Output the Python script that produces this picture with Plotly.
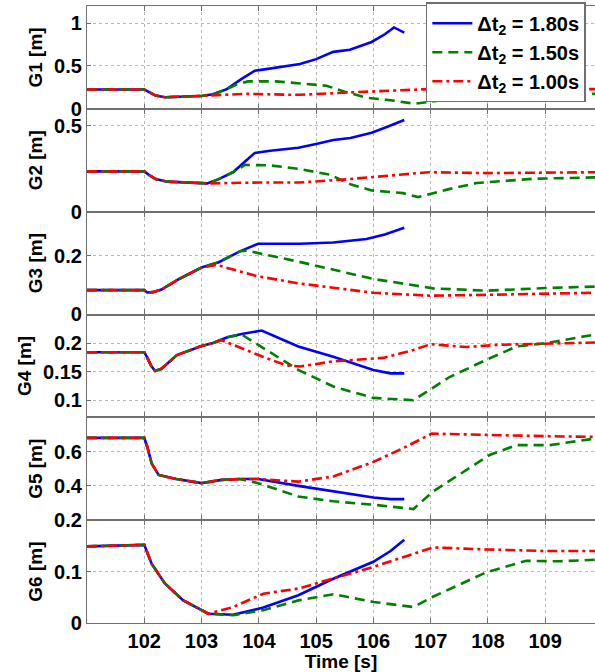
import plotly.graph_objects as go
from plotly.subplots import make_subplots

# ---------------- data ----------------
series_names = ["Δt<sub>2</sub> = 1.80s", "Δt<sub>2</sub> = 1.50s", "Δt<sub>2</sub> = 1.00s"]
panel_labels = ["G1 [m]", "G2 [m]", "G3 [m]", "G4 [m]", "G5 [m]", "G6 [m]"]
x_tick_vals = [102, 103, 104, 105, 106, 107, 108, 109]

# G1
g1_common_t = [101, 102, 102.1, 102.2, 102.36, 102.7, 103.0]
g1_common_v = [0.226, 0.226, 0.19, 0.155, 0.135, 0.145, 0.15]
g1_blue_t = [103.2, 103.44, 103.7, 103.93, 104.1, 104.72, 105.0, 105.3, 105.59, 105.97, 106.2, 106.36, 106.54]
g1_blue_v = [0.17, 0.23, 0.35, 0.445, 0.46, 0.524, 0.58, 0.665, 0.69, 0.78, 0.87, 0.95, 0.89]
g1_green_t = [103.2, 103.44, 103.6, 103.81, 104.3, 104.72, 105.18, 105.5, 105.88, 106.3, 106.72, 107.45, 108.2, 109.0, 109.87]
g1_green_v = [0.17, 0.23, 0.28, 0.32, 0.32, 0.30, 0.27, 0.2, 0.13, 0.10, 0.06, 0.12, 0.15, 0.16, 0.175]
g1_red_t = [103.8, 104.5, 104.72, 105.7, 106.96, 108.0, 109.87]
g1_red_v = [0.175, 0.165, 0.164, 0.195, 0.23, 0.225, 0.23]

# G2
g2_common_t = [101, 102, 102.1, 102.2, 102.4, 103.0, 103.1]
g2_common_v = [0.235, 0.235, 0.21, 0.19, 0.175, 0.17, 0.165]
g2_blue_t = [103.3, 103.55, 103.75, 103.93, 104.2, 104.69, 105.0, 105.3, 105.6, 105.97, 106.2, 106.54]
g2_blue_v = [0.19, 0.23, 0.29, 0.343, 0.355, 0.373, 0.395, 0.418, 0.43, 0.461, 0.49, 0.535]
g2_green_t = [103.3, 103.55, 103.76, 104.2, 104.69, 105.24, 105.6, 105.97, 106.52, 106.78, 107.3, 107.8, 108.79, 109.87]
g2_green_v = [0.19, 0.23, 0.273, 0.27, 0.25, 0.216, 0.16, 0.124, 0.108, 0.085, 0.13, 0.167, 0.192, 0.2]
g2_red_t = [104.0, 104.7, 105.47, 106.2, 106.96, 108.0, 109.87]
g2_red_v = [0.17, 0.17, 0.187, 0.21, 0.23, 0.225, 0.23]

# G3
g3_common_t = [101, 102, 102.05, 102.15, 102.3, 102.6, 103.0]
g3_common_v = [0.083, 0.083, 0.075, 0.076, 0.085, 0.12, 0.16]
g3_blue_t = [103.3, 103.67, 103.99, 104.72, 105.3, 105.88, 106.2, 106.54]
g3_blue_v = [0.178, 0.215, 0.241, 0.241, 0.245, 0.257, 0.272, 0.295]
g3_green_t = [103.3, 103.67, 103.8, 104.69, 106.0, 107.04, 107.98, 109.0, 109.87]
g3_green_v = [0.178, 0.215, 0.217, 0.18, 0.121, 0.089, 0.081, 0.09, 0.095]
g3_red_t = [103.26, 103.96, 104.69, 106.0, 106.99, 107.98, 109.87]
g3_red_v = [0.169, 0.131, 0.106, 0.074, 0.064, 0.067, 0.074]

# G4
g4_common_t = [101, 102.0, 102.05, 102.12, 102.19, 102.3, 102.57, 103.0, 103.2]
g4_common_v = [0.184, 0.184, 0.175, 0.16, 0.151, 0.155, 0.179, 0.195, 0.2]
g4_blue_t = [103.45, 103.7, 104.05, 104.69, 105.3, 106.0, 106.3, 106.54]
g4_blue_v = [0.21, 0.216, 0.222, 0.194, 0.176, 0.153, 0.147, 0.147]
g4_green_t = [103.45, 103.7, 104.31, 104.69, 105.3, 106.0, 106.7, 107.34, 107.98, 108.5, 109.02, 109.87]
g4_green_v = [0.21, 0.215, 0.176, 0.153, 0.124, 0.104, 0.10, 0.141, 0.171, 0.194, 0.2, 0.215]
g4_red_t = [103.35, 104.07, 104.48, 104.72, 105.3, 106.17, 106.7, 107.0, 107.62, 108.2, 109.0, 109.87]
g4_red_v = [0.205, 0.176, 0.161, 0.159, 0.168, 0.174, 0.188, 0.198, 0.193, 0.197, 0.199, 0.201]

# G5
g5_common_t = [101, 102, 102.05, 102.13, 102.25, 102.56, 103.0, 103.35, 103.67]
g5_common_v = [0.68, 0.68, 0.63, 0.53, 0.464, 0.44, 0.416, 0.435, 0.44]
g5_blue_t = [103.99, 104.69, 105.3, 106.0, 106.3, 106.54]
g5_blue_v = [0.44, 0.40, 0.367, 0.332, 0.323, 0.323]
g5_green_t = [103.99, 104.69, 105.3, 106.0, 106.7, 107.04, 108.03, 108.5, 109.08, 109.87]
g5_green_v = [0.416, 0.338, 0.31, 0.29, 0.265, 0.367, 0.58, 0.638, 0.638, 0.676]
g5_red_t = [104.0, 104.69, 105.3, 106.0, 106.52, 107.02, 107.98, 109.0, 109.87]
g5_red_v = [0.44, 0.425, 0.455, 0.54, 0.62, 0.705, 0.696, 0.69, 0.686]

# G6
g6_common_t = [101, 102, 102.13, 102.36, 102.68, 103.12]
g6_common_v = [0.149, 0.152, 0.115, 0.077, 0.044, 0.018]
g6_blue_t = [103.55, 104.08, 104.69, 105.3, 106.0, 106.3, 106.54]
g6_blue_v = [0.016, 0.03, 0.054, 0.086, 0.119, 0.14, 0.162]
g6_green_t = [103.55, 104.08, 104.69, 105.3, 106.0, 106.7, 107.04, 107.98, 108.67, 109.25, 109.87]
g6_green_v = [0.015, 0.025, 0.044, 0.056, 0.041, 0.031, 0.051, 0.099, 0.121, 0.12, 0.123]
g6_red_t = [103.55, 104.08, 104.69, 106.0, 106.52, 107.04, 107.98, 109.02, 109.87]
g6_red_v = [0.031, 0.057, 0.067, 0.109, 0.128, 0.147, 0.143, 0.14, 0.14]

y_ranges = [[0, 1.2], [0, 0.6], [0, 0.35], [0.07, 0.25], [0.2, 0.8], [0, 0.2]]
y_ticks = [[0, 0.5, 1], [0, 0.5], [0, 0.2], [0.1, 0.15, 0.2], [0.2, 0.4, 0.6], [0, 0.1]]
y_ticktext = [["0", "0.5", "1"], ["0", "0.5"], ["0", "0.2"], ["0.1", "0.15", "0.2"], ["0.2", "0.4", "0.6"], ["0", "0.1"]]

panels = [
    (g1_common_t, g1_common_v, g1_blue_t, g1_blue_v, g1_green_t, g1_green_v, g1_red_t, g1_red_v),
    (g2_common_t, g2_common_v, g2_blue_t, g2_blue_v, g2_green_t, g2_green_v, g2_red_t, g2_red_v),
    (g3_common_t, g3_common_v, g3_blue_t, g3_blue_v, g3_green_t, g3_green_v, g3_red_t, g3_red_v),
    (g4_common_t, g4_common_v, g4_blue_t, g4_blue_v, g4_green_t, g4_green_v, g4_red_t, g4_red_v),
    (g5_common_t, g5_common_v, g5_blue_t, g5_blue_v, g5_green_t, g5_green_v, g5_red_t, g5_red_v),
    (g6_common_t, g6_common_v, g6_blue_t, g6_blue_v, g6_green_t, g6_green_v, g6_red_t, g6_red_v),
]

colors = ["rgb(0,0,255)", "rgb(0,128,0)", "rgb(255,0,0)"]
dashes = ["solid", "10px,6px", "10px,4px,3px,4px"]

FONT = "Liberation Sans, Arial, sans-serif"
TICK_SIZE = 20

fig = make_subplots(rows=6, cols=1, shared_xaxes=True, vertical_spacing=0)

for i, p in enumerate(panels):
    ct, cv = p[0], p[1]
    for k in range(3):
        t = list(ct) + list(p[2 + 2 * k])
        v = list(cv) + list(p[3 + 2 * k])
        fig.add_trace(go.Scatter(
            x=t, y=v, mode="lines", name=series_names[k],
            line=dict(color=colors[k], width=2.6, dash=dashes[k]),
            showlegend=(i == 0), legendrank=k + 1,
        ), row=i + 1, col=1)

for i in range(6):
    fig.update_yaxes(
        row=i + 1, col=1, range=y_ranges[i], tickvals=y_ticks[i], ticktext=y_ticktext[i],
        showgrid=True, gridcolor="#b8b8b8", griddash="dot", gridwidth=1,
        showline=True, linecolor="#707070", linewidth=1.2, mirror=True,
        ticks="inside", ticklen=4, tickcolor="#707070", zeroline=False,
        title=dict(text=panel_labels[i], standoff=6, font=dict(size=19, family=FONT, weight="bold")),
        tickfont=dict(size=TICK_SIZE, family=FONT, weight="bold", color="black"),
        automargin=False,
    )
    fig.update_xaxes(
        row=i + 1, col=1, range=[101, 109.87], tickvals=x_tick_vals,
        showgrid=True, gridcolor="#b8b8b8", griddash="dot", gridwidth=1,
        showline=True, linecolor="#707070", linewidth=1.2, mirror="ticks",
        ticks="inside", ticklen=5, tickcolor="#707070", zeroline=False,
        tickfont=dict(size=TICK_SIZE, family=FONT, weight="bold", color="black"),
        automargin=False,
    )

fig.update_xaxes(row=6, col=1, title=dict(text="Time [s]", standoff=0,
                 font=dict(size=19, family=FONT, weight="bold")))

fig.update_layout(
    width=595, height=672,
    margin=dict(l=87, r=0, t=6, b=49),
    paper_bgcolor="white", plot_bgcolor="white",
    font=dict(family=FONT, size=19, color="black", weight="bold"),
    legend=dict(
        x=0.667, y=1.006, xanchor="left", yanchor="top",
        bgcolor="white", bordercolor="#707070", borderwidth=1.5,
        font=dict(size=20, family=FONT, weight="bold"),
        itemwidth=40, tracegroupgap=0,
    ),
)

fig.write_html("out.html")
